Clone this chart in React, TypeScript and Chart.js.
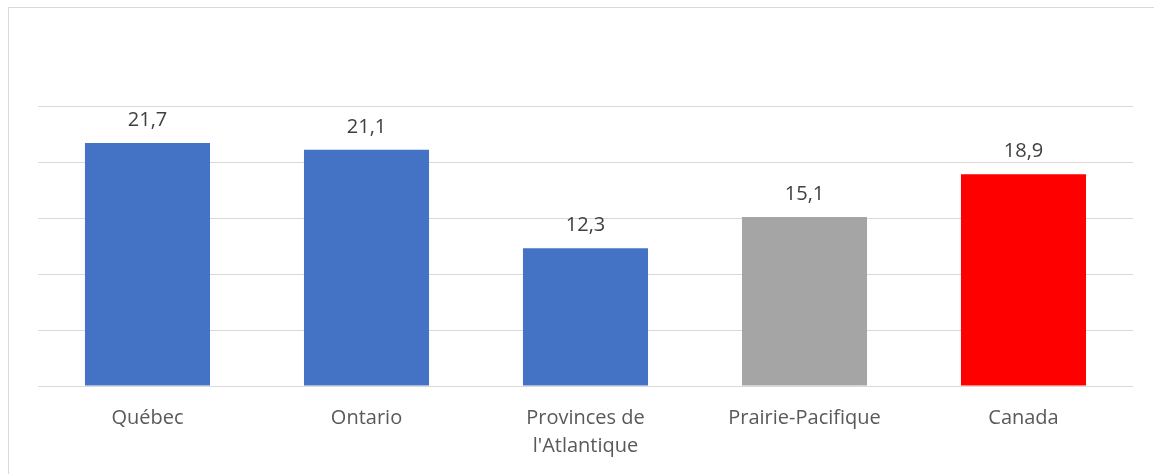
import React, { useEffect, useRef } from "react";
import { Chart, registerables } from "chart.js";

Chart.register(...registerables);

const categories: (string | string[])[] = ["Québec", "Ontario", ["Provinces de", "l'Atlantique"], "Prairie-Pacifique", "Canada"];
const values = [21.7, 21.1, 12.3, 15.1, 18.9];
const valueLabels = ["21,7", "21,1", "12,3", "15,1", "18,9"];
const barColors = ["#4472C4", "#4472C4", "#4472C4", "#A5A5A5", "#FF0000"];

const FONT = "'Open Sans', 'Noto Sans', sans-serif";

const valueLabelPlugin = {
  id: "valueLabels",
  afterDatasetsDraw(chart: any) {
    const ctx = chart.ctx;
    const meta = chart.getDatasetMeta(0);
    ctx.save();
    ctx.font = `20px ${FONT}`;
    ctx.fillStyle = "#404040";
    ctx.textAlign = "center";
    ctx.textBaseline = "alphabetic";
    meta.data.forEach((bar: any, i: number) => {
      ctx.fillText(valueLabels[i], bar.x, bar.y - 17);
    });
    ctx.restore();
  },
};

export default function App() {
  const ref = useRef<HTMLCanvasElement>(null);
  useEffect(() => {
    if (!ref.current) return;
    const chart = new Chart(ref.current, {
      type: "bar",
      data: {
        labels: categories,
        datasets: [
          {
            data: values,
            backgroundColor: barColors,
            borderWidth: 0,
            barPercentage: 0.571,
            categoryPercentage: 1,
          },
        ],
      },
      options: {
        animation: false,
        responsive: false,
        maintainAspectRatio: false,
        layout: { padding: { left: 38, right: 21, top: 106, bottom: 0 } },
        plugins: { legend: { display: false }, tooltip: { enabled: false }, title: { display: false } },
        scales: {
          x: {
            grid: { display: false, drawTicks: false },
            border: { display: false },
            ticks: {
              color: "#595959",
              font: { family: FONT, size: 20, lineHeight: 28 / 20 },
              padding: 18,
              maxRotation: 0,
              autoSkip: false,
            },
            afterFit(scale: any) {
              scale.height = 88;
            },
          },
          y: {
            min: 0,
            max: 25,
            ticks: { display: false, stepSize: 5 },
            grid: { color: "#D9D9D9", lineWidth: 1, drawTicks: false },
            border: { display: false },
            afterFit(scale: any) {
              scale.width = 0;
            },
          },
        },
      },
      plugins: [valueLabelPlugin],
    });
    return () => chart.destroy();
  }, []);
  return (
    <>
      <div
        style={{
          position: "absolute",
          left: 8,
          top: 7,
          width: 1170,
          height: 500,
          border: "1px solid #D9D9D9",
          boxSizing: "border-box",
        }}
      />
      <canvas
        ref={ref}
        width={1154}
        height={474}
        style={{ position: "absolute", left: 0, top: 0, width: 1154, height: 474 }}
      />
    </>
  );
}
